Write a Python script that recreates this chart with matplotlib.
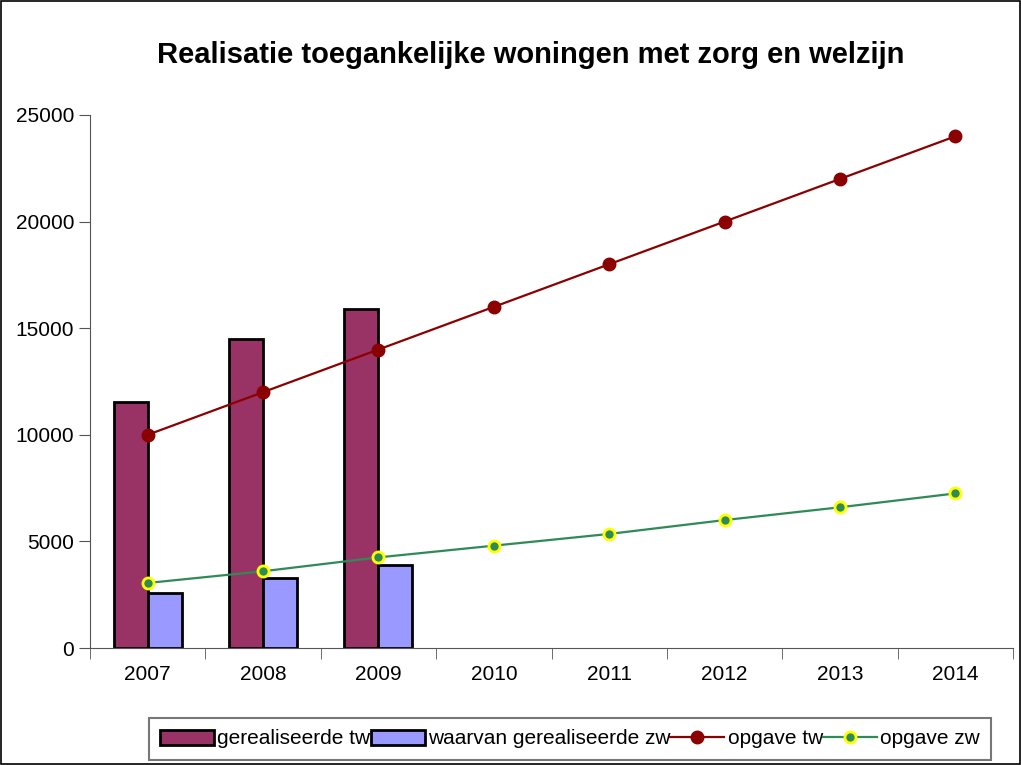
import numpy as np
import matplotlib.pyplot as plt
from matplotlib.patches import Rectangle

plt.rcParams['font.family'] = ['Liberation Sans', 'DejaVu Sans']

# Data
years = ['2007', '2008', '2009', '2010', '2011', '2012', '2013', '2014']
gerealiseerde_tw = [11550, 14480, 15880]
gerealiseerde_zw = [2560, 3300, 3880]
opgave_tw = [10000, 12000, 14000, 16000, 18000, 20000, 22000, 24000]
opgave_zw = [3050, 3600, 4250, 4800, 5350, 6000, 6600, 7250]

fig = plt.figure(figsize=(10.21, 7.65), dpi=100)
ax = fig.add_axes([90/1021, 1 - 648/765, 923/1021, 533/765])

x = np.arange(len(years))
w = 0.295
xb = np.arange(len(gerealiseerde_tw))
b1 = ax.bar(xb - w/2, gerealiseerde_tw, w, color='#993366', edgecolor='black', linewidth=2,
            label='gerealiseerde tw', zorder=2)
b2 = ax.bar(xb + w/2, gerealiseerde_zw, w, color='#9999ff', edgecolor='black', linewidth=2,
            label='waarvan gerealiseerde zw', zorder=2)
l1, = ax.plot(x, opgave_tw, color='#8b0000', marker='o', markersize=9, linewidth=1.6,
              label='opgave tw', zorder=3)
l2, = ax.plot(x, opgave_zw, color='#2e8b57', marker='o', markersize=8, markerfacecolor='#2e8b57',
              markeredgecolor='#ffff00', markeredgewidth=2, linewidth=1.6,
              label='opgave zw', zorder=3)

ax.set_xlim(-0.5, 7.5)
ax.set_ylim(0, 25000)
ax.set_yticks(range(0, 25001, 5000))
ax.set_xticks(x)
ax.set_xticklabels(years)
ax.set_xticks(np.arange(-0.5, 7.6, 1), minor=True)
ax.tick_params(axis='x', which='major', length=0, labelsize=15, pad=12)
ax.tick_params(axis='x', which='minor', length=8, direction='out', color='#555555')
ax.tick_params(axis='y', length=8, direction='out', color='#555555', labelsize=15)
for s in ['top', 'right']:
    ax.spines[s].set_visible(False)
ax.spines['left'].set_color('#555555')
ax.spines['bottom'].set_color('#555555')

fig.text(531/1021, 1 - 55/765, 'Realisatie toegankelijke woningen met zorg en welzijn',
         ha='center', va='center', fontsize=21, fontweight='bold')

leg = fig.legend([b1, b2, l1, l2],
                 ['gerealiseerde tw', 'waarvan gerealiseerde zw', 'opgave tw', 'opgave zw'],
                 ncol=4, loc='center', bbox_to_anchor=(570/1021, 1 - 739/765),
                 fontsize=15, frameon=True, fancybox=False, edgecolor='#555555',
                 handlelength=2.6, handletextpad=0.15, columnspacing=0.0, borderpad=0.55)
leg.get_frame().set_linewidth(1.5)

fig.patches.append(Rectangle((0.001, 0.001), 0.998, 0.998, transform=fig.transFigure,
                             fill=False, edgecolor='black', linewidth=1.2))

plt.savefig('out.png', dpi=100)
